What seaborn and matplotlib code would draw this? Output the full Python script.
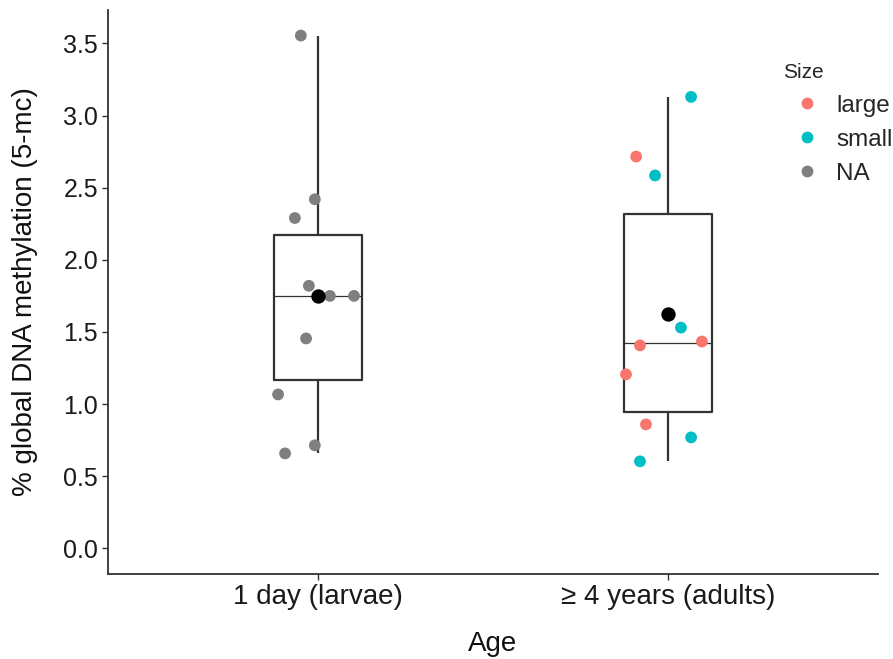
import matplotlib
matplotlib.use("Agg")
import matplotlib.pyplot as plt
import numpy as np
import pandas as pd
import seaborn as sns

# Age groups and their axis labels
ages = ["1 day (larvae)", "≥ 4 years (adults)"]

# % global DNA methylation per sample
larvae_values = [3.555, 2.42, 2.29, 1.82, 1.75, 1.75, 1.455, 1.067, 0.714, 0.658]
adult_values = [3.13, 2.716, 2.585, 1.53, 1.407, 1.434, 1.206, 0.859, 0.769, 0.603]

# Size class for each sample
larvae_size = ["NA"] * 10
adult_size = ["small", "large", "small", "small", "large", "large", "large", "large", "small", "small"]

# Horizontal jitter applied to each sample (category units)
larvae_jitter = [-0.049, -0.009, -0.066, -0.026, 0.034, 0.103, -0.034, -0.114, -0.009, -0.094]
adult_jitter = [0.066, -0.091, -0.037, 0.037, -0.080, 0.097, -0.120, -0.063, 0.066, -0.080]

size_levels = ["large", "small", "NA"]
size_colors = ["#F8766D", "#00BFC4", "#7F7F7F"]

df = pd.DataFrame({
    "Age": [ages[0]] * len(larvae_values) + [ages[1]] * len(adult_values),
    "value": larvae_values + adult_values,
    "Size": larvae_size + adult_size,
    "jitter": larvae_jitter + adult_jitter,
})
df["Age"] = pd.Categorical(df["Age"], categories=ages, ordered=True)
df["xpos"] = df["Age"].cat.codes + df["jitter"]

sns.set_theme(style="white")
plt.rcParams["font.family"] = ["Liberation Sans", "DejaVu Sans"]

fig = plt.figure(figsize=(8.93, 6.59), dpi=100)
ax = fig.add_axes([0.1209, 0.129, 0.8623, 0.856])

line_col = "#333333"
sns.boxplot(
    data=df, x="Age", y="value", order=ages, ax=ax,
    width=0.25, showfliers=False, showcaps=False, whis=10,
    fill=False, color=line_col, linecolor=line_col, linewidth=1.6,
    medianprops=dict(linewidth=0.9, color=line_col),
)

sns.scatterplot(
    data=df, x="xpos", y="value", hue="Size", hue_order=size_levels,
    palette=dict(zip(size_levels, size_colors)), s=72, linewidth=0,
    ax=ax, zorder=3,
)

sns.pointplot(
    data=df, x="Age", y="value", order=ages, estimator="mean",
    errorbar=None, linestyle="none", color="black", markers="o",
    markersize=8.3, ax=ax, zorder=4,
)

ax.set_xlim(-0.6, 1.6)
ax.set_ylim(-0.178, 3.733)
ax.set_xticks([0, 1])
ax.set_xticklabels(ages)
ax.set_yticks(np.arange(0, 3.51, 0.5))
ax.set_yticklabels([f"{t:.1f}" for t in np.arange(0, 3.51, 0.5)])

for side in ["top", "right"]:
    ax.spines[side].set_visible(False)
for side in ["left", "bottom"]:
    ax.spines[side].set_color(line_col)
    ax.spines[side].set_linewidth(1.3)

ax.tick_params(axis="both", which="major", length=4, width=1.0, color=line_col,
               labelcolor="#1a1a1a", pad=3, left=True, bottom=True)
ax.tick_params(axis="y", labelsize=18)
ax.tick_params(axis="x", labelsize=20)
ax.set_xlabel("Age", fontsize=20, color="#111111", labelpad=15)
ax.set_ylabel("% global DNA methylation (5-mc)", fontsize=20, color="#111111", labelpad=18)

sns.move_legend(
    ax, "upper left", bbox_to_anchor=(0.848, 0.944), frameon=False,
    title="Size", fontsize=17.5, title_fontsize=15, handletextpad=0.2,
    labelspacing=0.5, markerscale=1.0, alignment="left",
)

fig.savefig("out.png", dpi=100)
